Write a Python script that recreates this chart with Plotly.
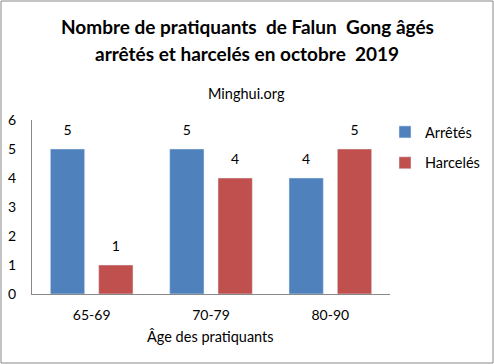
import plotly.graph_objects as go

categories = ["65-69", "70-79", "80-90"]
arretes = [5, 5, 4]
harceles = [1, 4, 5]
series_names = ["Arrêtés", "Harcelés"]
title_lines = ["Nombre de pratiquants  de Falun  Gong âgés", "arrêtés et harcelés en octobre  2019"]
subtitle = "Minghui.org"
x_title = "Âge des pratiquants"

W, H = 494, 364
L, R, T, B = 32, 104, 120, 70
pw, ph = W - L - R, H - T - B

FONT = "Lato"
COLORS = ["#4F81BD", "#C0504D"]
fig = go.Figure()
for i, (name, vals) in enumerate(zip(series_names, [arretes, harceles])):
    fig.add_trace(go.Bar(x=categories, y=vals, name=name, marker_color=COLORS[i],
                         offsetgroup=str(i), legendgroup=str(i)))
for i, (name, vals) in enumerate(zip(series_names, [arretes, harceles])):
    fig.add_trace(go.Scatter(x=categories, y=vals, mode="markers+text", text=vals,
                             textposition="top center", offsetgroup=str(i),
                             marker=dict(size=16, opacity=0), showlegend=False,
                             hoverinfo="skip", cliponaxis=False,
                             textfont=dict(size=14, color="#000", family=FONT)))

def px_x(p):
    return (p - L) / pw

def px_y(p):
    return (H - B - p) / ph

def ann(text, x, y, size):
    return dict(text=text, x=px_x(x), y=px_y(y), xref="paper", yref="paper",
                xanchor="center", yanchor="middle", showarrow=False,
                font=dict(size=size, family=FONT, color="#000"))

annotations = [
    ann("<b>" + title_lines[0] + "</b>", 247, 26, 19),
    ann("<b>" + title_lines[1] + "</b>", 247, 54, 19),
    ann(subtitle, 246, 93, 14.5),
    ann(x_title, 210, 336, 14.5),
]

fig.update_layout(
    width=W, height=H,
    margin=dict(l=L, r=R, t=T, b=B, pad=0, autoexpand=False),
    paper_bgcolor="white", plot_bgcolor="white",
    font=dict(family=FONT, size=14, color="#000"),
    barmode="group", bargap=0.19, bargroupgap=0.29,
    scattermode="group", scattergap=0.19,
    annotations=annotations,
    showlegend=True,
    legend=dict(x=px_x(385), y=px_y(116), xanchor="left", yanchor="top",
                font=dict(size=14.5, family=FONT), tracegroupgap=9,
                bgcolor="rgba(0,0,0,0)", itemwidth=30),
    xaxis=dict(showline=True, linecolor="#888", linewidth=1, ticks="", showgrid=False,
               tickfont=dict(size=14), ticklabelstandoff=8, automargin=False),
    yaxis=dict(range=[0, 6], dtick=1, showline=True, linecolor="#888", linewidth=1,
               ticks="", showgrid=False, zeroline=False, tickfont=dict(size=14),
               ticklabelstandoff=12, automargin=False),
    shapes=[dict(type="rect", xref="paper", yref="paper",
                 x0=px_x(1), x1=px_x(W - 1), y0=px_y(1), y1=px_y(H - 1),
                 line=dict(color="#888", width=1), layer="above")],
)

fig.write_html("out.html", config={"displayModeBar": False},
               post_script="document.body.style.margin='0';")
